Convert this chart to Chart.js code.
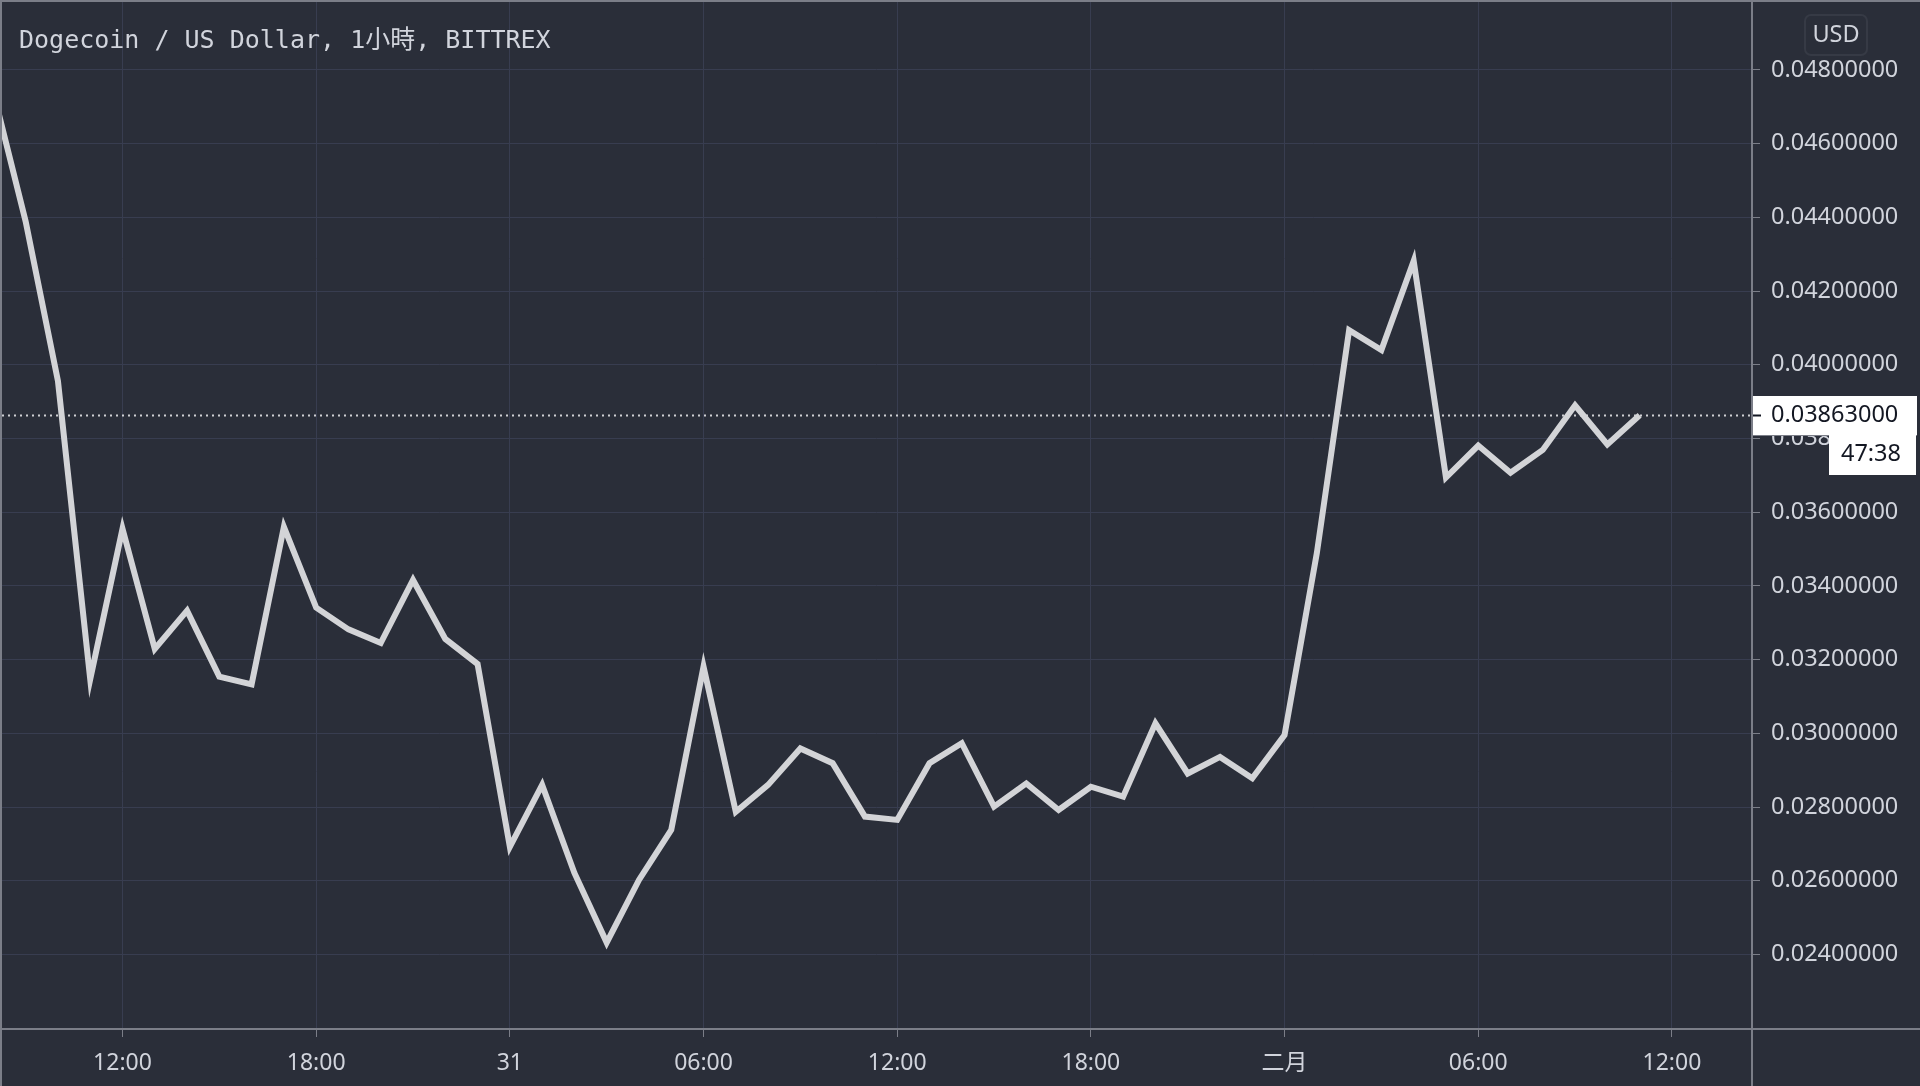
<!DOCTYPE html>
<html>
<head>
<meta charset="utf-8">
<title>Dogecoin / US Dollar</title>
<script src="https://cdn.jsdelivr.net/npm/chart.js@4/dist/chart.umd.min.js"></script>
<style>
    html, body { margin: 0; padding: 0; background: #2a2e39; overflow: hidden; }
    #wrap { width: 1920px; height: 1086px; position: relative; }
</style>
</head>
<body>
<div id="wrap"><canvas id="doge-chart"></canvas></div>
<script>
// hours counted from 12:00 on the 30th
const hours = [
    -4, -3, -2, -1, 0, 1, 2, 3, 4, 5, 6, 7, 8, 9, 10, 11,
    12, 13, 14, 15, 16, 17, 18, 19, 20, 21, 22, 23, 24, 25, 26, 27,
    28, 29, 30, 31, 32, 33, 34, 35, 36, 37, 38, 39, 40, 41, 42, 43,
    44, 45, 46, 47
];
const closePrices = [
    0.04740, 0.04389, 0.03956, 0.03147, 0.03555, 0.03229, 0.03333, 0.03154,
    0.03133, 0.03560, 0.03341, 0.03282, 0.03245, 0.03416, 0.03256, 0.03188,
    0.02692, 0.02860, 0.02621, 0.02432, 0.02602, 0.02738, 0.03181, 0.02787,
    0.02860, 0.02959, 0.02919, 0.02774, 0.02765, 0.02919, 0.02973, 0.02801,
    0.02864, 0.02792, 0.02855, 0.02828, 0.03027, 0.02891, 0.02936, 0.02878,
    0.02995, 0.03489, 0.04094, 0.04040, 0.04282, 0.03694, 0.03781, 0.03707,
    0.03769, 0.03890, 0.03784, 0.03863
];
const xTickHours = [0, 6, 12, 18, 24, 30, 36, 42, 48];
const xTickLabels = ['12:00', '18:00', '31', '06:00', '12:00', '18:00', '二月', '06:00', '12:00'];
const yTickValues = [0.024, 0.026, 0.028, 0.030, 0.032, 0.034, 0.036, 0.038, 0.040, 0.042, 0.044, 0.046, 0.048];

const TITLE = 'Dogecoin / US Dollar, 1小時, BITTREX';
const CURRENCY = 'USD';
const COUNTDOWN = '47:38';

const BG = '#2a2e39';
const GRID = '#383d50';
const SEP = '#7b7e88';
const TEXT = '#d1d4dc';
const LINE = '#d3d4d7';
const FONT = "'Noto Sans', 'Noto Sans CJK TC', sans-serif";

const tvPlugin = {
    id: 'tvDecor',
    beforeDraw(chart) {
        const ctx = chart.ctx;
        ctx.save();
        ctx.fillStyle = BG;
        ctx.fillRect(0, 0, chart.width, chart.height);
        ctx.restore();
    },
    beforeDatasetsDraw(chart) {
        const ctx = chart.ctx;
        const area = chart.chartArea;
        const y = chart.scales.y.getPixelForValue(closePrices[closePrices.length - 1]);
        ctx.save();
        ctx.strokeStyle = '#cfd0d4';
        ctx.lineWidth = 2;
        ctx.setLineDash([2, 4]);
        ctx.beginPath();
        ctx.moveTo(area.left, Math.round(y) + 0.5);
        ctx.lineTo(area.right, Math.round(y) + 0.5);
        ctx.stroke();
        ctx.restore();
    },
    afterDraw(chart) {
        const ctx = chart.ctx;
        const area = chart.chartArea;
        const W = chart.width, H = chart.height;
        ctx.save();

        // frame and pane separators
        ctx.strokeStyle = SEP;
        ctx.lineWidth = 2;
        ctx.beginPath();
        ctx.moveTo(1, H); ctx.lineTo(1, 1); ctx.lineTo(W, 1);
        ctx.moveTo(area.right + 1, 0); ctx.lineTo(area.right + 1, H);
        ctx.moveTo(0, area.bottom + 1); ctx.lineTo(W, area.bottom + 1);
        ctx.stroke();

        // title
        ctx.fillStyle = TEXT;
        ctx.textBaseline = 'alphabetic';
        ctx.textAlign = 'left';
        ctx.font = "25px 'DejaVu Sans Mono', 'Noto Sans CJK TC', monospace";
        ctx.fillText(TITLE, 19, 48);

        // currency badge
        ctx.strokeStyle = '#363a45';
        ctx.lineWidth = 2;
        ctx.beginPath();
        ctx.roundRect(1805, 15, 62, 40, 6);
        ctx.stroke();
        ctx.fillStyle = TEXT;
        ctx.font = '23.5px ' + FONT;
        ctx.textAlign = 'center';
        ctx.textBaseline = 'middle';
        ctx.fillText(CURRENCY, 1836, 35);

        // last price label
        const last = closePrices[closePrices.length - 1];
        const py = Math.round(chart.scales.y.getPixelForValue(last));
        ctx.fillStyle = '#ffffff';
        ctx.fillRect(area.right + 2, py - 19, W - area.right - 5, 39);
        ctx.strokeStyle = '#131722';
        ctx.lineWidth = 2;
        ctx.beginPath();
        ctx.moveTo(area.right + 2, py + 0.5);
        ctx.lineTo(area.right + 10, py + 0.5);
        ctx.stroke();
        ctx.fillStyle = '#131722';
        ctx.textAlign = 'left';
        ctx.fillText(last.toFixed(8), 1771, py);

        // countdown label
        ctx.fillStyle = SEP;
        ctx.fillRect(area.right + 2, py + 20, W - area.right - 5, 1);
        ctx.fillStyle = '#ffffff';
        ctx.fillRect(1829, py + 20, 87, 40);
        ctx.fillStyle = '#131722';
        ctx.textAlign = 'right';
        ctx.fillText(COUNTDOWN, 1901, py + 39);

        ctx.restore();
    }
};

const ctx = document.getElementById('doge-chart').getContext('2d');
new Chart(ctx, {
    type: 'line',
    data: {
        datasets: [{
            label: 'DOGE/USD',
            data: hours.map((h, i) => ({ x: h, y: closePrices[i] })),
            borderColor: LINE,
            borderWidth: 6,
            pointRadius: 0,
            tension: 0,
            fill: false,
            clip: 0,
        }],
    },
    options: {
        responsive: true,
        maintainAspectRatio: false,
        animation: false,
        events: [],
        layout: { padding: { left: 2, top: 2, right: 0, bottom: 0 } },
        plugins: {
            legend: { display: false },
            tooltip: { enabled: false },
        },
        scales: {
            x: {
                type: 'linear',
                min: -3.733,
                max: 50.45,
                afterBuildTicks: axis => { axis.ticks = xTickHours.map(v => ({ value: v })); },
                afterFit: axis => {
                    axis.height = 58;
                    axis.paddingLeft = 0;
                    axis.paddingRight = 0;
                },
                ticks: {
                    autoSkip: false,
                    maxRotation: 0,
                    padding: 13,
                    color: TEXT,
                    font: { size: 23, family: FONT },
                    callback: (v, i) => xTickLabels[i],
                },
                grid: { color: GRID, lineWidth: 1, tickColor: SEP, tickLength: 9 },
                border: { display: false },
            },
            y: {
                type: 'linear',
                position: 'right',
                min: 0.022003,
                max: 0.049845,
                afterBuildTicks: axis => { axis.ticks = yTickValues.map(v => ({ value: v })); },
                afterFit: axis => {
                    axis.width = 169;
                    axis.paddingTop = 0;
                    axis.paddingBottom = 0;
                },
                ticks: {
                    padding: 11,
                    color: TEXT,
                    font: { size: 23.5, family: FONT },
                    callback: v => Number(v).toFixed(8),
                },
                grid: { color: GRID, lineWidth: 1, tickColor: SEP, tickLength: 9 },
                border: { display: false },
            },
        },
    },
    plugins: [tvPlugin],
});
</script>
</body>
</html>
